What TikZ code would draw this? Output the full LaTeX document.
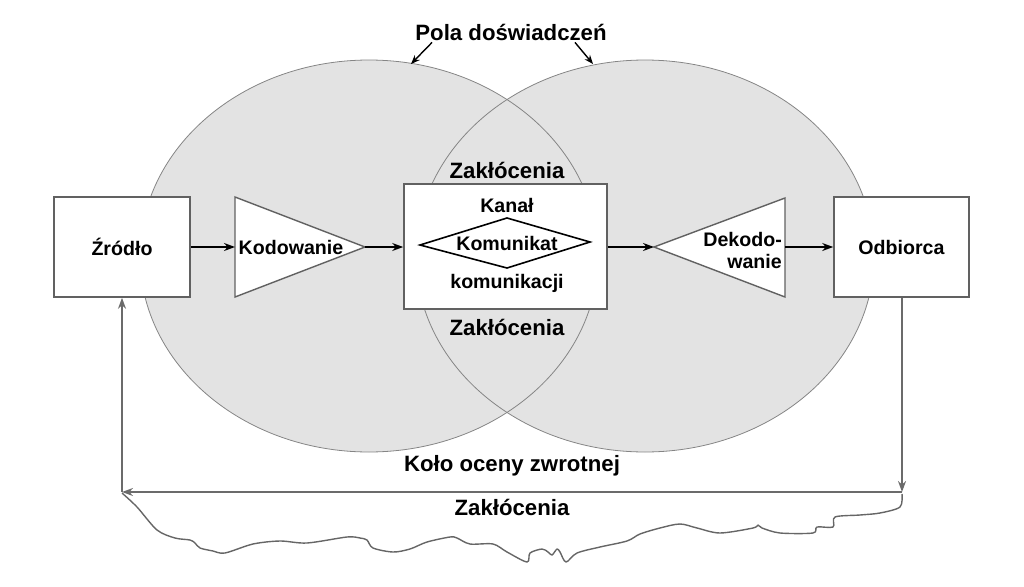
\documentclass[tikz,border=0pt]{standalone}
\usepackage{fontspec}
\setmainfont{Liberation Sans}
\usetikzlibrary{arrows.meta}

\begin{document}
\begin{tikzpicture}[x=1pt,y=-1pt,
        txt/.style={font=\fontsize{19.6}{22}\selectfont\bfseries,inner sep=0pt},
        bigtxt/.style={font=\fontsize{22.2}{24}\selectfont\bfseries,inner sep=0pt},
        block/.style={draw=black!62,line width=1.6pt,fill=white,inner sep=0pt,minimum width=136pt,minimum height=100pt},
        wedge/.style={draw=black!62,line width=1.4pt,fill=white},
        flow/.style={line width=1.6pt,-{Stealth[length=11pt,width=8pt]}},
        feedback/.style={draw=black!58,line width=1.8pt,-{Stealth[length=11pt,width=8pt]}}]
        \useasboundingbox (0,0) rectangle (1024,586);
        %% Fields of experience
        \fill[black!11] (369,256) ellipse [x radius=229, y radius=196];
        \fill[black!11] (645,256) ellipse [x radius=229, y radius=196];
        \draw[black!48,line width=0.8pt] (369,256) ellipse [x radius=229, y radius=196];
        \draw[black!48,line width=0.8pt] (645,256) ellipse [x radius=229, y radius=196];
        \node[bigtxt] (title) at (511,32) {Pola doświadczeń};
        \coordinate (fieldL) at (411,64);
        \coordinate (fieldR) at (593,64);
        \draw[line width=1.4pt,-{Stealth[length=9pt,width=7pt]}] ([xshift=-79pt,yshift=-2pt]title.south) -- (fieldL);
        \draw[line width=1.4pt,-{Stealth[length=9pt,width=7pt]}] ([xshift=64pt,yshift=-2pt]title.south) -- (fieldR);
        %% Source and receiver
        \node[block] (src) at (122,247) {};
        \node[txt] at (src) {Źródło};
        \node[block,minimum width=135pt] (rcv) at (901.5,247) {};
        \node[txt] at (rcv) {Odbiorca};
        %% Coding
        \draw[wedge] (235,197) -- (365,247) -- (235,297) -- cycle;
        \coordinate (encIn) at (235,247);
        \coordinate (encOut) at (365,247);
        \node[txt] (enc) at (291,247) {Kodowanie};
        \draw[wedge] (654,247) -- (785,198) -- (785,297) -- cycle;
        \coordinate (decIn) at (654,247);
        \coordinate (decOut) at (785,247);
        \node[txt,align=right,anchor=east] (dec) at (782,250) {Dekodo-\\wanie};
        %% Channel
        \node[block,minimum width=203pt,minimum height=125pt] (chan) at (505.5,246.5) {};
        \node[txt] (chanA) at (507,205) {Kanał};
        \draw[line width=1.6pt] (420,245) -- (507,218) -- (590,242) -- (507,268) -- cycle;
        \node[txt] (msg) at (507,243) {Komunikat};
        \node[txt] (chanB) at (507,283) {komunikacji};
        \node[bigtxt] (noiseA) at (507,170) {Zakłócenia};
        \node[bigtxt] (noiseB) at (507,327) {Zakłócenia};
        %% Flow
        \draw[flow] (src) -- (encIn);
        \draw[flow] (encOut) -- (chan.west |- encOut);
        \draw[flow] (chan.east |- decIn) -- (decIn);
        \draw[flow] (decOut) -- (rcv.west |- decOut);
        %% Feedback loop
        \coordinate (fbR) at (902,492);
        \coordinate (fbL) at (122,492);
        \draw[feedback] (rcv.south -| fbR) -- (fbR);
        \draw[feedback] (fbR) -- (fbL);
        \draw[feedback] (fbL) -- (src.south);
        \node[bigtxt] (loop) at (512,466) {Koło oceny zwrotnej};
        \node[bigtxt] (noiseC) at (512,507) {Zakłócenia};
        %% Noise line
        \draw[black!60,line width=1.4pt,line join=round] plot[smooth,tension=0.5] coordinates {
            (122,493) (137,507) (157,530) (175,538) (190,540) (195,543) (200,548) (213,551) (225,553)
            (253,544) (280,541) (307,543) (347,537) (360,538) (367,540) (373,548) (393,552) (410,549)
            (427,542) (450,537) (457,538) (470,544) (493,544) (507,552) (527,562) (530,553) (542,549)
            (548,552) (552,555) (557,549) (560,552) (566,562) (577,553) (600,547) (627,541) (640,534)
            (660,528) (680,524) (697,528) (720,533) (753,528) (758,525) (762,528) (780,533) (813,533)
            (817,527) (833,527) (835,517) (860,515) (880,513) (900,507) (902,494)};
    \end{tikzpicture}
\end{document}
